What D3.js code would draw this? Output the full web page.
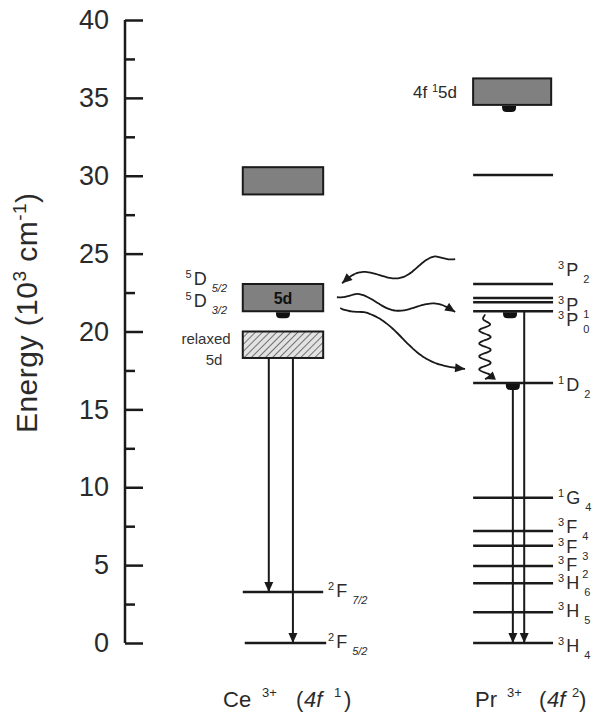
<!DOCTYPE html>
<html>
<head>
<meta charset="utf-8">
<script src="https://cdn.jsdelivr.net/npm/d3@7"></script>
<style>
  body { margin: 0; background: #fff; }
  svg { display: block; font-family: "Liberation Sans", Arial, sans-serif; }
</style>
</head>
<body>
<svg id="chart"></svg>
<script>
const width = 598;
const height = 715;

// energies in 10^3 cm^-1
const majorTicks = [0, 5, 10, 15, 20, 25, 30, 35, 40];
const minorTicks = [2.5, 7.5, 12.5, 17.5, 22.5, 27.5, 32.5, 37.5];

// Ce3+ levels
const ceBands = [
    { lo: 28.8, hi: 30.55, kind: "solid", text: "" },
    { lo: 21.3, hi: 23.05, kind: "solid", text: "5d" },
    { lo: 18.3, hi: 20.0, kind: "hatch", text: "" },
];
const ceLines = [3.27, 0];
const ceLineLabels = [
    { e: 3.27, sup: "2", main: "F", sub: "7/2" },
    { e: 0, sup: "2", main: "F", sub: "5/2" },
];
const ceBandLabels = [
    { e: 23.05, dy: -5, sup: "5", main: "D", sub: "5/2" },
    { e: 21.3, dy: -10, sup: "5", main: "D", sub: "3/2" },
];
const ceEmission = [
    { from: 18.3, to: 3.27, x: 30.4 },
    { from: 18.3, to: 0, x: 35.5 },
];

// Pr3+ levels
const prBands = [{ lo: 34.55, hi: 36.25 }];
const prLines = [30.05, 23.05, 22.15, 21.87, 21.3, 16.7, 9.33, 7.19, 6.25, 4.94, 3.83, 1.97, 0];
const prLabels = [
    { e: 23.05, dy: -14, sup: "3", main: "P", sub: "2" },
    { e: 22.15, dy: 7, sup: "3", main: "P", sub: "1" },
    { e: 21.3, dy: 9, sup: "3", main: "P", sub: "0" },
    { e: 16.7, dy: 2, sup: "1", main: "D", sub: "2" },
    { e: 9.33, dy: 0, sup: "1", main: "G", sub: "4" },
    { e: 7.19, dy: -4, sup: "3", main: "F", sub: "4" },
    { e: 6.25, dy: 1, sup: "3", main: "F", sub: "3" },
    { e: 4.94, dy: -1, sup: "3", main: "F", sub: "2" },
    { e: 3.83, dy: 0, sup: "3", main: "H", sub: "6" },
    { e: 1.97, dy: -1, sup: "3", main: "H", sub: "5" },
    { e: 0, dy: 3, sup: "3", main: "H", sub: "4" },
];
const prEmission = [
    { from: 16.7, to: 0, x: 82.0 },
    { from: 21.3, to: 0, x: 84.4 },
];
// populated level markers (x in column units, energy)
const blobs = [
    { x: 33.4, e: 21.3 },
    { x: 81.2, e: 34.55 },
    { x: 81.4, e: 21.3 },
    { x: 82.0, e: 16.7 },
];
// energy transfer (wavy) arrows: x in column units, energies
const transfers = [
    { x0: 69.8, e0: 24.65, x1: 45.9, e1: 23.1, n: 1.5, amp: 7 },
    { x0: 44.8, e0: 22.2, x1: 69.8, e1: 21.25, n: 1.5, amp: -6 },
    { x0: 45.5, e0: 21.5, x1: 71.9, e1: 17.6, n: 1, amp: -8 },
    { x0: 76.1, e0: 21.1, x1: 76.1, e1: 16.95, n: 5, amp: 6 },
];

const ceCol = [24.9, 41.9];
const prCol = [73.6, 90.5];

const x = d3.scaleLinear().domain([0, 100]).range([125, 598]);
const y = d3.scaleLinear().domain([0, 40]).range([643, 20]);

const ink = "#1a1a1a";
const textInk = "#2a2a2a";

const svg = d3.select("#chart")
    .attr("width", width)
    .attr("height", height)
    .attr("viewBox", [0, 0, width, height]);

const defs = svg.append("defs");
const hatch = defs.append("pattern")
    .attr("id", "hatch")
    .attr("patternUnits", "userSpaceOnUse")
    .attr("width", 5).attr("height", 5)
    .attr("patternTransform", "rotate(45)");
hatch.append("rect").attr("width", 5).attr("height", 5).attr("fill", "#e2e2e2");
hatch.append("line").attr("x1", 0).attr("y1", 0).attr("x2", 0).attr("y2", 5)
    .attr("stroke", "#555").attr("stroke-width", 1.6);

defs.append("marker")
    .attr("id", "head")
    .attr("markerUnits", "userSpaceOnUse")
    .attr("viewBox", "0 -5 10 10")
    .attr("refX", 10).attr("refY", 0)
    .attr("markerWidth", 11).attr("markerHeight", 10)
    .attr("orient", "auto")
    .append("path").attr("d", "M0,-4.5L10,0L0,4.5Z").attr("fill", ink);

// axis
const axisG = svg.append("g").attr("transform", `translate(${x(0)},0)`);
axisG.append("line")
    .attr("x1", 0).attr("x2", 0)
    .attr("y1", y(0)).attr("y2", y(40))
    .attr("stroke", ink).attr("stroke-width", 2.5);
const major = axisG.append("g").call(
    d3.axisLeft(y).tickValues(majorTicks).tickSize(-18).tickPadding(16).tickSizeOuter(0));
major.select(".domain").remove();
major.selectAll(".tick line").attr("stroke", ink).attr("stroke-width", 2.5);
major.selectAll(".tick text")
    .attr("fill", textInk)
    .attr("font-size", 27)
    .attr("font-family", "Liberation Sans, Arial, sans-serif");
const minor = axisG.append("g").call(
    d3.axisLeft(y).tickValues(minorTicks).tickSize(-10).tickFormat(""));
minor.select(".domain").remove();
minor.selectAll(".tick line").attr("stroke", ink).attr("stroke-width", 2.5);

const yLabel = svg.append("text")
    .attr("transform", `translate(37,313) rotate(-90)`)
    .attr("text-anchor", "middle")
    .attr("font-size", 30)
    .attr("textLength", 240)
    .attr("lengthAdjust", "spacing")
    .attr("fill", textInk);
yLabel.append("tspan").text("Energy (10");
yLabel.append("tspan").attr("font-size", 19).attr("dy", -11).text("3");
yLabel.append("tspan").attr("dy", 11).text(" cm");
yLabel.append("tspan").attr("font-size", 19).attr("dy", -11).text("-1");
yLabel.append("tspan").attr("dy", 11).text(")");

function termLabel(g, px, cy, d, anchor, subSize, subItalic) {
    const t = g.append("text")
        .attr("x", px).attr("y", cy + 6)
        .attr("text-anchor", anchor)
        .attr("font-size", 18)
        .attr("fill", textInk);
    t.append("tspan").attr("font-size", 11).attr("dy", -7).text(d.sup);
    t.append("tspan").attr("dy", 7).attr("dx", 2).text(d.main);
    t.append("tspan")
        .attr("font-size", subSize)
        .attr("font-style", subItalic ? "italic" : "normal")
        .attr("dy", 7).attr("dx", 5).text(d.sub);
}

// Ce column
const ce = svg.append("g");
ce.selectAll("rect.band")
    .data(ceBands)
    .join("rect")
    .attr("class", "band")
    .attr("x", x(ceCol[0]))
    .attr("width", x(ceCol[1]) - x(ceCol[0]))
    .attr("y", d => y(d.hi))
    .attr("height", d => y(d.lo) - y(d.hi))
    .attr("fill", d => d.kind === "hatch" ? "url(#hatch)" : "#808080")
    .attr("stroke", ink)
    .attr("stroke-width", 2);
ce.selectAll("text.bandtext")
    .data(ceBands.filter(d => d.text))
    .join("text")
    .attr("class", "bandtext")
    .attr("x", (x(ceCol[0]) + x(ceCol[1])) / 2)
    .attr("y", d => (y(d.lo) + y(d.hi)) / 2 + 6)
    .attr("text-anchor", "middle")
    .attr("font-weight", "bold")
    .attr("font-size", 16)
    .attr("fill", "#111")
    .text(d => d.text);
ce.selectAll("line.level")
    .data(ceLines)
    .join("line")
    .attr("class", "level")
    .attr("x1", (d, i) => x(ceCol[0]) + i * 2)
    .attr("x2", (d, i) => x(ceCol[1]) + i * 3)
    .attr("y1", d => y(d)).attr("y2", d => y(d))
    .attr("stroke", ink).attr("stroke-width", 2.5);
ceLineLabels.forEach(d => termLabel(ce, 328, y(d.e) - 1, d, "start", 11, true));
ceBandLabels.forEach(d => termLabel(ce, 227, y(d.e) + d.dy, d, "end", 11, true));

const relaxed = ce.append("text")
    .attr("text-anchor", "middle")
    .attr("font-size", 15)
    .attr("fill", "#333");
relaxed.append("tspan").attr("x", 206).attr("y", y(19.5) + 5).text("relaxed");
relaxed.append("tspan").attr("x", 214).attr("y", y(18.2) + 5).text("5d");

ce.selectAll("line.emit")
    .data(ceEmission)
    .join("line")
    .attr("class", "emit")
    .attr("x1", d => x(d.x)).attr("x2", d => x(d.x))
    .attr("y1", d => y(d.from)).attr("y2", d => y(d.to))
    .attr("stroke", ink).attr("stroke-width", 2)
    .attr("marker-end", "url(#head)");

// Pr column
const pr = svg.append("g");
pr.selectAll("rect.band")
    .data(prBands)
    .join("rect")
    .attr("class", "band")
    .attr("x", x(prCol[0]))
    .attr("width", x(90.1) - x(prCol[0]))
    .attr("y", d => y(d.hi))
    .attr("height", d => y(d.lo) - y(d.hi))
    .attr("fill", "#808080")
    .attr("stroke", ink)
    .attr("stroke-width", 2);
const conf = pr.append("text")
    .attr("x", 457).attr("y", y(35.4) + 6)
    .attr("text-anchor", "end")
    .attr("font-size", 17)
    .attr("fill", textInk);
conf.append("tspan").text("4f ");
conf.append("tspan").attr("font-size", 11).attr("dy", -6).text("1");
conf.append("tspan").attr("dy", 6).text("5d");

pr.selectAll("line.level")
    .data(prLines)
    .join("line")
    .attr("class", "level")
    .attr("x1", x(prCol[0]))
    .attr("x2", x(prCol[1]))
    .attr("y1", d => y(d)).attr("y2", d => y(d))
    .attr("stroke", ink).attr("stroke-width", 2.5);
prLabels.forEach(d => termLabel(pr, 558, y(d.e) + d.dy, d, "start", 11, false));

pr.selectAll("line.emit")
    .data(prEmission)
    .join("line")
    .attr("class", "emit")
    .attr("x1", d => x(d.x)).attr("x2", d => x(d.x))
    .attr("y1", d => y(d.from)).attr("y2", d => y(d.to))
    .attr("stroke", ink).attr("stroke-width", 2)
    .attr("marker-end", "url(#head)");

// population markers
svg.selectAll("path.blob")
    .data(blobs)
    .join("path")
    .attr("class", "blob")
    .attr("d", d => {
        const cx = x(d.x), cy = y(d.e) + 1;
        return `M${cx - 7},${cy} h14 v1.5 q0,4.5 -4.5,4.5 h-5 q-4.5,0 -4.5,-4.5 z`;
    })
    .attr("fill", "#111");

// energy transfer arrows
function wavePoints(d) {
    const p0 = [x(d.x0), y(d.e0)], p1 = [x(d.x1), y(d.e1)];
    const dx = p1[0] - p0[0], dy = p1[1] - p0[1];
    const len = Math.hypot(dx, dy);
    const nx = -dy / len, ny = dx / len;
    return d3.range(0, 61).map(i => {
        const t = i / 60;
        const off = d.amp * Math.sin(2 * Math.PI * d.n * t) * Math.min(1, t * 6);
        return [p0[0] + dx * t + nx * off, p0[1] + dy * t + ny * off];
    });
}
svg.selectAll("path.transfer")
    .data(transfers)
    .join("path")
    .attr("class", "transfer")
    .attr("d", d => d3.line().curve(d3.curveBasis)(wavePoints(d)))
    .attr("fill", "none")
    .attr("stroke", ink)
    .attr("stroke-width", 1.8)
    .attr("marker-end", "url(#head)");

// ion labels: [text, offset from start, style]
function ionLabel(px, parts) {
    const t = svg.append("text")
        .attr("y", 707)
        .attr("font-size", 22)
        .attr("fill", textInk);
    parts.forEach(p => {
        t.append("tspan")
            .attr("x", px + p.dx)
            .attr("y", p.sup ? 697 : 707)
            .attr("font-size", p.sup ? 13 : 22)
            .attr("font-style", p.italic ? "italic" : "normal")
            .text(p.t);
    });
}
ionLabel(223, [
    { t: "Ce", dx: 0 }, { t: "3+", dx: 39, sup: true }, { t: "(", dx: 73 },
    { t: "4f", dx: 81, italic: true }, { t: "1", dx: 111, sup: true }, { t: ")", dx: 121 },
]);
ionLabel(475, [
    { t: "Pr", dx: 0 }, { t: "3+", dx: 32, sup: true }, { t: "(", dx: 64 },
    { t: "4f", dx: 72, italic: true }, { t: "2", dx: 97, sup: true }, { t: ")", dx: 104 },
]);
</script>
</body>
</html>
